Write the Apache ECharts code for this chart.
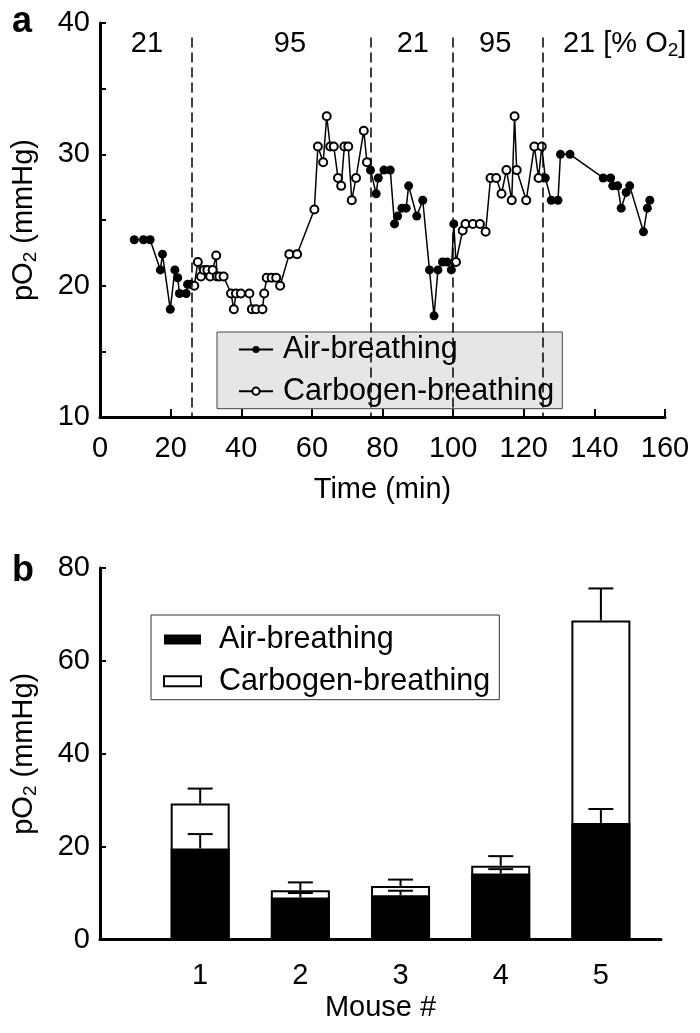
<!DOCTYPE html>
<html>
<head>
<meta charset="utf-8">
<script src="https://cdn.jsdelivr.net/npm/echarts@6/dist/echarts.min.js"></script>
<style>
html, body { margin: 0; padding: 0; background: #fff; }
#chart { width: 700px; height: 1033px; }
</style>
</head>
<body>
<div id="chart"></div>
<script>
// panel a: pO2 trace, air-breathing points (filled) and carbogen points (open)
var airTime = [9.7, 12.3, 14.2, 17.1, 17.7, 19.9, 21.2, 22.0, 22.5, 24.4, 24.8, 25.6,
    76.6, 78.2, 78.8, 80.4, 82.2, 83.4, 84.3, 85.5, 86.7, 87.4, 89.7, 91.4, 93.3, 94.6, 95.7, 97.0, 98.3, 99.5, 100.2,
    126.1, 127.8, 129.7, 130.4, 133.1, 142.5, 144.6, 145.2, 146.6, 147.6, 149.0, 150.0, 153.9, 155.0, 155.7];
var airPo2 = [23.5, 23.5, 23.5, 21.2, 22.4, 18.2, 21.2, 20.6, 19.4, 19.4, 20.1, 20.1,
    28.8, 27.0, 28.2, 28.8, 28.8, 24.7, 25.3, 25.9, 25.9, 27.6, 25.3, 26.5, 21.2, 17.7, 21.2, 21.8, 21.8, 21.2, 24.7,
    28.2, 26.5, 26.5, 30.0, 30.0, 28.2, 28.2, 27.6, 27.6, 25.9, 27.1, 27.6, 24.1, 25.9, 26.5];
var carbTime = [26.7, 27.7, 28.6, 29.4, 30.4, 31.2, 31.9, 32.9, 33.1, 33.8, 35.0, 37.1, 37.9, 38.5, 39.9, 42.3, 43.0, 44.2,
    46.0, 46.5, 47.2, 48.6, 49.9, 51.0, 53.6, 55.8, 60.7, 61.7, 63.2, 64.2, 65.2, 66.2, 67.4, 68.3, 69.2, 70.3,
    71.3, 72.5, 74.7, 75.6,
    100.8, 102.7, 103.5, 105.6, 107.6, 109.2, 110.6, 112.2, 113.7, 115.1, 116.6, 117.4, 118.0, 120.7, 123.0, 124.2, 125.1];
var carbPo2 = [20.0, 21.8, 20.7, 21.2, 21.2, 20.7, 21.2, 22.3, 20.7, 20.7, 20.7, 19.4, 18.2, 19.4, 19.4, 19.4, 18.2, 18.2,
    18.2, 19.4, 20.6, 20.6, 20.6, 20.0, 22.4, 22.4, 25.8, 30.6, 29.4, 32.9, 30.6, 30.6, 28.2, 27.6, 30.6, 30.6,
    26.5, 28.2, 31.8, 29.4,
    21.8, 24.2, 24.7, 24.7, 24.7, 24.1, 28.2, 28.2, 27.0, 28.8, 26.5, 32.9, 28.8, 26.5, 30.6, 28.2, 30.6];
var switchTimes = [26, 76.8, 100, 125.4];
var phaseTime = [13.3, 53.8, 88.6, 111.9, 131.1];
var phaseText = ['21', '95', '21', '95', '21 [% O{s|2}]'];

// panel b: mean pO2 per mouse with error
var mouseNo = [1, 2, 3, 4, 5];
var airMean = [19.6, 9.05, 9.55, 14.2, 25.1];
var airErr = [3.1, 0.95, 0.95, 0.95, 3.0];
var carbMean = [29.3, 10.6, 11.5, 15.9, 68.7];
var carbErr = [3.2, 1.7, 1.4, 2.05, 6.9];

var FONT = "'Liberation Sans', Arial, sans-serif";
var chart = echarts.init(document.getElementById('chart'));

var airPts = airTime.map(function (t, i) { return [t, airPo2[i]]; });
var carbPts = carbTime.map(function (t, i) { return [t, carbPo2[i]]; });
var trace = airPts.concat(carbPts).sort(function (a, b) { return a[0] - b[0]; });

function pairs(xs, ys, es) {
    return xs.map(function (x, i) { return [x, ys[i], es[i]]; });
}

function errorBar(params, api) {
    var x = api.value(0), m = api.value(1), e = api.value(2);
    var p0 = api.coord([x, m]);
    var p1 = api.coord([x, m + e]);
    var st = { stroke: '#000', lineWidth: 2 };
    return {
        type: 'group',
        children: [
            { type: 'line', shape: { x1: p0[0], y1: p0[1], x2: p1[0], y2: p1[1] }, style: st },
            { type: 'line', shape: { x1: p1[0] - 12.5, y1: p1[1], x2: p1[0] + 12.5, y2: p1[1] }, style: st }
        ]
    };
}

var yName = {
    fontSize: 29, fontFamily: FONT, color: '#000',
    rich: {
        n: { fontSize: 29, fontFamily: FONT, color: '#000' },
        s: { fontSize: 19, fontFamily: FONT, color: '#000', padding: [14, 0, 0, 0] }
    }
};
var axisLbl = { fontSize: 29, fontFamily: FONT, color: '#000' };
var axisLn = { show: true, lineStyle: { color: '#000', width: 3 } };

option = {
    animation: false,
    backgroundColor: '#fff',
    graphic: [
        { type: 'text', left: 12, top: 4, style: { text: 'a', font: 'bold 36px ' + FONT, fill: '#000' } },
        { type: 'text', left: 12, top: 553, style: { text: 'b', font: 'bold 36px ' + FONT, fill: '#000' } }
    ],
    grid: [
        { left: 100, top: 23, width: 565, height: 394 },
        { left: 100, top: 568, width: 561, height: 371.5 }
    ],
    legend: [
        {
            left: 217, top: 332, orient: 'vertical', selectedMode: false,
            backgroundColor: '#e6e6e6', borderColor: '#444', borderWidth: 1,
            padding: [2, 8, 2, 21], itemGap: 10.7, itemWidth: 34, itemHeight: 9,
            textStyle: { fontSize: 30.5, fontFamily: FONT, color: '#000', lineHeight: 28, padding: [0, 0, 0, 5] },
            data: [
                { name: 'Air-breathing', lineStyle: { opacity: 1 } },
                { name: 'Carbogen-breathing', lineStyle: { opacity: 1 } }
            ]
        },
        {
            left: 151, top: 615, orient: 'vertical', selectedMode: false,
            backgroundColor: '#fff', borderColor: '#333', borderWidth: 1,
            padding: [9, 9, 3, 12], itemGap: 10.7, itemWidth: 37, itemHeight: 10, icon: 'rect',
            textStyle: { fontSize: 30.5, fontFamily: FONT, color: '#000', lineHeight: 28, padding: [0, 0, 0, 13] },
            data: ['airBar', 'carbBar'],
            formatter: function (name) {
                return name === 'airBar' ? 'Air-breathing' : 'Carbogen-breathing';
            }
        }
    ],
    xAxis: [
        {
            gridIndex: 0, type: 'value', min: 0, max: 160, interval: 20,
            name: 'Time (min)', nameLocation: 'middle', nameGap: 58, nameTextStyle: axisLbl,
            axisLine: axisLn,
            axisTick: { show: true, inside: true, length: 8, lineStyle: { color: '#000', width: 2 } },
            axisLabel: { fontSize: 29, fontFamily: FONT, color: '#000', margin: 17 },
            splitLine: { show: false }
        },
        {
            gridIndex: 1, type: 'value', min: 0, max: 5.6, interval: 1,
            name: 'Mouse #', nameLocation: 'middle', nameGap: 54, nameTextStyle: axisLbl,
            axisLine: axisLn,
            axisTick: { show: false },
            axisLabel: {
                fontSize: 29, fontFamily: FONT, color: '#000', margin: 22,
                formatter: function (v) { return mouseNo.indexOf(v) >= 0 ? String(v) : ''; }
            },
            splitLine: { show: false }
        }
    ],
    yAxis: [
        {
            gridIndex: 0, type: 'value', min: 10, max: 40, interval: 5,
            name: '{n|pO}{s|2}{n| (mmHg)}', nameLocation: 'middle', nameRotate: 90, nameGap: 60,
            nameTextStyle: yName,
            axisLine: axisLn,
            axisTick: { show: true, inside: true, length: 6, lineStyle: { color: '#000', width: 2 } },
            axisLabel: {
                fontSize: 29, fontFamily: FONT, color: '#000', margin: 10,
                formatter: function (v) { return v % 10 === 0 ? String(v) : ''; }
            },
            splitLine: { show: false }
        },
        {
            gridIndex: 1, type: 'value', min: 0, max: 80, interval: 20,
            name: '{n|pO}{s|2}{n| (mmHg)}', nameLocation: 'middle', nameRotate: 90, nameGap: 60,
            nameTextStyle: yName,
            axisLine: axisLn,
            axisTick: { show: true, inside: true, length: 6, lineStyle: { color: '#000', width: 2 } },
            axisLabel: { fontSize: 29, fontFamily: FONT, color: '#000', margin: 10 },
            splitLine: { show: false }
        }
    ],
    series: [
        {
            name: 'trace', type: 'line', xAxisIndex: 0, yAxisIndex: 0,
            data: trace, showSymbol: false, silent: true, z: 2,
            lineStyle: { color: '#000', width: 1.5 },
            markLine: {
                silent: true, symbol: ['none', 'none'], label: { show: false },
                lineStyle: { color: '#000', width: 1.5, type: [10, 5] },
                data: switchTimes.map(function (t) { return [{ coord: [t, 38.9] }, { coord: [t, 10] }]; })
            }
        },
        {
            name: 'Air-breathing', type: 'line', xAxisIndex: 0, yAxisIndex: 0,
            data: airPts, symbol: 'circle', symbolSize: 9, z: 3,
            itemStyle: { color: '#000' },
            lineStyle: { color: '#000', width: 1.5, opacity: 0 }
        },
        {
            name: 'Carbogen-breathing', type: 'line', xAxisIndex: 0, yAxisIndex: 0,
            data: carbPts, symbol: 'emptyCircle', symbolSize: 8, z: 3,
            itemStyle: { color: '#000', borderWidth: 1.5 },
            lineStyle: { color: '#000', width: 1.5, opacity: 0 }
        },
        {
            name: 'phases', type: 'scatter', xAxisIndex: 0, yAxisIndex: 0, symbolSize: 0, silent: true,
            itemStyle: { opacity: 1 },
            data: phaseTime.map(function (t, i) {
                return { value: [t, 38.4], label: { align: i === phaseTime.length - 1 ? 'left' : 'center' } };
            }),
            label: {
                show: true, position: 'inside', color: '#000', opacity: 1, fontSize: 29, fontFamily: FONT,
                formatter: function (p) { return phaseText[p.dataIndex]; },
                rich: { s: { fontSize: 19, fontFamily: FONT, color: '#000', padding: [14, 0, 0, 0] } }
            }
        },
        {
            name: 'carbBar', type: 'bar', xAxisIndex: 1, yAxisIndex: 1,
            data: pairs(mouseNo, carbMean, carbErr), barWidth: 59, barGap: '-100%',
            itemStyle: { color: '#fff', borderColor: '#000', borderWidth: 2 }
        },
        {
            name: 'airBar', type: 'bar', xAxisIndex: 1, yAxisIndex: 1,
            data: pairs(mouseNo, airMean, airErr), barWidth: 59, barGap: '-100%',
            itemStyle: { color: '#000', borderColor: '#000', borderWidth: 0 }
        },
        {
            name: 'carbErr', type: 'custom', xAxisIndex: 1, yAxisIndex: 1, z: 5, silent: true,
            data: pairs(mouseNo, carbMean, carbErr), renderItem: errorBar
        },
        {
            name: 'airErr', type: 'custom', xAxisIndex: 1, yAxisIndex: 1, z: 5, silent: true,
            data: pairs(mouseNo, airMean, airErr), renderItem: errorBar
        }
    ]
};

chart.setOption(option);
</script>
</body>
</html>
